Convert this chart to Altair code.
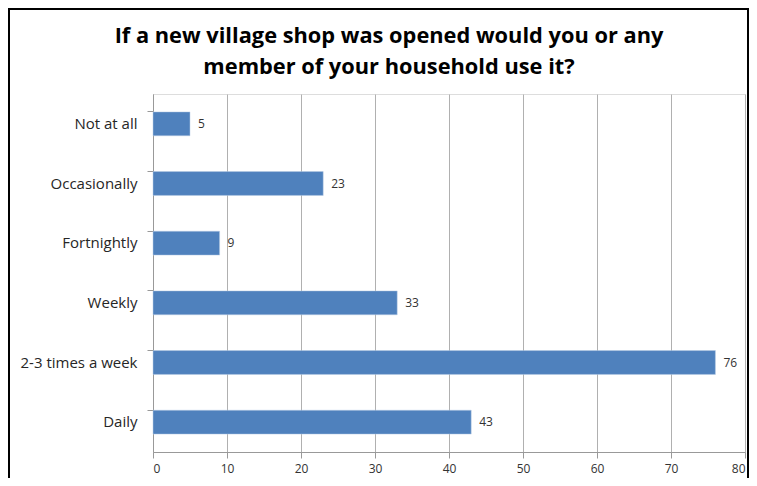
import altair as alt
import pandas as pd

categories = ["Not at all", "Occasionally", "Fortnightly", "Weekly", "2-3 times a week", "Daily"]
values = [5, 23, 9, 33, 76, 43]
x_ticks = [0, 10, 20, 30, 40, 50, 60, 70, 80]

df = pd.DataFrame({"category": categories, "value": values})

FONT = "Open Sans"

y_enc = alt.Y("category:N", sort=categories, title=None,
              scale=alt.Scale(paddingInner=0.6, paddingOuter=0.3),
              axis=alt.Axis(bandPosition=0, labelFontSize=15, labelColor="#262626",
                            labelFont=FONT, labelPadding=10, tickSize=6,
                            tickColor="#999999", domainColor="#999999", grid=False))
x_enc = alt.X("value:Q", title=None,
              scale=alt.Scale(domain=[0, 80], nice=False),
              axis=alt.Axis(values=x_ticks, labelFontSize=12, labelColor="#333333",
                            labelFont=FONT, tickSize=6, tickColor="#999999",
                            domainColor="#999999", gridColor="#b0b0b0", grid=True,
                            labelPadding=5))

bars = alt.Chart(df).mark_bar(color="#4F81BD", stroke="#b8cce4", strokeWidth=0.5).encode(x=x_enc, y=y_enc)
labels = alt.Chart(df).mark_text(align="left", dx=8, fontSize=12, color="#333333", font=FONT).encode(
    x="value:Q", y=alt.Y("category:N", sort=categories), text="value:Q")

frame = alt.Chart(df).mark_rect(fill=None, stroke="black", strokeWidth=2).encode(
    x=alt.value(-144), x2=alt.value(595), y=alt.value(-85), y2=alt.value(420))

chart = alt.layer(frame, bars, labels).properties(
    width=592, height=358,
    padding={"left": 145, "top": 86, "right": 4, "bottom": 26},
    autosize=alt.AutoSizeParams(type="none"),
    title=alt.TitleParams(
        text=["If a new village shop was opened would you or any", "member of your household use it?"],
        fontSize=21.8, font=FONT, fontWeight="bold", color="#000000",
        anchor="middle", frame="group", dx=-60, dy=71, lineHeight=31, offset=0),
).configure_view(stroke=None).configure(background="white")

chart.save("out.html", embed_options={"renderer": "svg", "actions": False})
